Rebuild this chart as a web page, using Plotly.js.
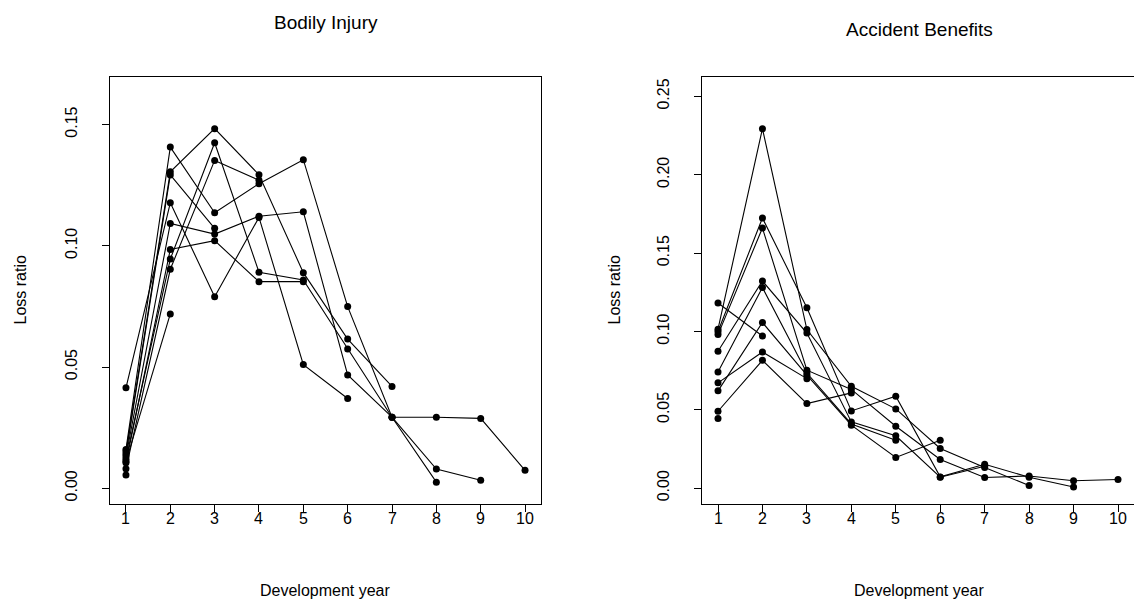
<!DOCTYPE html>
<html>
<head>
<meta charset="utf-8">
<script src="https://cdn.plot.ly/plotly-3.0.1.min.js"></script>
<style>
  html, body { margin: 0; padding: 0; background: #ffffff; }
  #chart { width: 1134px; height: 608px; }
</style>
</head>
<body>
<div id="chart"></div>
<script>
// Development years (columns of the loss triangle)
const devYears = [1, 2, 3, 4, 5, 6, 7, 8, 9, 10];

// Bodily Injury: incremental loss ratios, one row per accident year
const biYear1  = [0.0160, 0.1407, 0.1136, 0.1256, 0.1355, 0.0749, 0.0293, 0.0293, 0.0288, 0.0074];
const biYear2  = [0.0130, 0.1092, 0.1048, 0.1122, 0.1140, 0.0467, 0.0293, 0.0079, 0.0033];
const biYear3  = [0.0120, 0.0945, 0.1425, 0.0891, 0.0859, 0.0574, 0.0293, 0.0025];
const biYear4  = [0.0150, 0.1305, 0.1483, 0.1293, 0.0889, 0.0615, 0.0420];
const biYear5  = [0.0414, 0.1177, 0.0790, 0.1117, 0.0510, 0.0370];
const biYear6  = [0.0105, 0.0985, 0.1021, 0.0852, 0.0852];
const biYear7  = [0.0080, 0.0903, 0.1352, 0.1270];
const biYear8  = [0.0140, 0.1292, 0.1072];
const biYear9  = [0.0110, 0.0719];
const biYear10 = [0.0055];

// Accident Benefits: incremental loss ratios, one row per accident year
const abYear1  = [0.0980, 0.1660, 0.0753, 0.0630, 0.0395, 0.0183, 0.0068, 0.0078, 0.0047, 0.0055];
const abYear2  = [0.1000, 0.1724, 0.1152, 0.0493, 0.0587, 0.0072, 0.0153, 0.0070, 0.0008];
const abYear3  = [0.1015, 0.2294, 0.1012, 0.0650, 0.0506, 0.0253, 0.0132, 0.0017];
const abYear4  = [0.0874, 0.1322, 0.0990, 0.0423, 0.0334, 0.0070, 0.0140];
const abYear5  = [0.0621, 0.1057, 0.0721, 0.0402, 0.0196, 0.0306];
const abYear6  = [0.0742, 0.1280, 0.0735, 0.0410, 0.0306];
const abYear7  = [0.0491, 0.0816, 0.0540, 0.0608];
const abYear8  = [0.0672, 0.0869, 0.0699];
const abYear9  = [0.1182, 0.0971];
const abYear10 = [0.0444];

const panelTitles = ['Bodily Injury', 'Accident Benefits'];
const xAxisTitle = 'Development year';
const yAxisTitle = 'Loss ratio';
const xTickVals = [1, 2, 3, 4, 5, 6, 7, 8, 9, 10];
const biTickVals = [0, 0.05, 0.10, 0.15];
const abTickVals = [0, 0.05, 0.10, 0.15, 0.20, 0.25];

const biRows = [biYear1, biYear2, biYear3, biYear4, biYear5, biYear6, biYear7, biYear8, biYear9, biYear10];
const abRows = [abYear1, abYear2, abYear3, abYear4, abYear5, abYear6, abYear7, abYear8, abYear9, abYear10];

function rowTraces(rows, xa, ya) {
  return rows.map(row => ({
    type: 'scatter',
    mode: 'lines+markers',
    x: devYears.slice(0, row.length),
    y: row,
    xaxis: xa,
    yaxis: ya,
    line: { color: '#000000', width: 1.1 },
    marker: { color: '#000000', size: 7 },
    cliponaxis: false,
    hoverinfo: 'x+y',
    showlegend: false
  }));
}

const traces = rowTraces(biRows, 'x', 'y').concat(rowTraces(abRows, 'x2', 'y2'));

const W = 1134, H = 608;
const fx = p => p / W;
const fy = p => 1 - p / H;
const font = { family: 'Liberation Sans, Arial, Helvetica, sans-serif', color: '#000000' };

// Plot boxes in pixels
const leftBox  = { x0: 110, x1: 541 };
const rightBox = { x0: 702, x1: 1134 };
const boxTop = 77, boxBottom = 504;
const xTickLabelY = 518;

function xAxis(box, anchor) {
  return {
    domain: [fx(box.x0), fx(box.x1)],
    range: [0.64, 10.36],
    tickmode: 'array',
    tickvals: xTickVals,
    showticklabels: false,
    ticks: 'outside', ticklen: 7, tickwidth: 1, tickcolor: '#000000',
    showline: true, mirror: true, linecolor: '#000000', linewidth: 1,
    showgrid: false, zeroline: false,
    anchor: anchor, automargin: false, fixedrange: true
  };
}

function yAxis(range, vals, anchor) {
  return {
    domain: [fy(boxBottom), fy(boxTop)],
    range: range,
    tickmode: 'array',
    tickvals: vals,
    ticktext: vals.map(v => v.toFixed(2)),
    tickangle: -90,
    ticks: 'outside', ticklen: 7, tickwidth: 1, tickcolor: '#000000',
    ticklabelstandoff: 19,
    showline: true, mirror: true, linecolor: '#000000', linewidth: 1,
    showgrid: false, zeroline: false,
    tickfont: Object.assign({ size: 16 }, font),
    anchor: anchor, automargin: false, fixedrange: true
  };
}

function label(text, x, y, size, angle) {
  return {
    text: text, xref: 'paper', yref: 'paper',
    x: fx(x), y: fy(y), xanchor: 'center', yanchor: 'middle',
    showarrow: false, textangle: angle || 0,
    font: Object.assign({ size: size }, font)
  };
}

// x tick labels placed just under the outward ticks
function xTickLabels(xref) {
  return xTickVals.map(v => ({
    text: String(v), xref: xref, yref: 'paper',
    x: v, y: fy(xTickLabelY), xanchor: 'center', yanchor: 'middle',
    showarrow: false, font: Object.assign({ size: 16 }, font)
  }));
}

const leftMid = (leftBox.x0 + leftBox.x1) / 2;
const rightMid = (rightBox.x0 + rightBox.x1 + 2) / 2;
const boxMid = (boxTop + boxBottom) / 2;

const layout = {
  width: W, height: H,
  margin: { l: 0, r: 0, t: 0, b: 0, pad: 0 },
  paper_bgcolor: '#ffffff', plot_bgcolor: '#ffffff',
  showlegend: false,
  xaxis: xAxis(leftBox, 'y'),
  yaxis: yAxis([-0.0065, 0.1696], biTickVals, 'x'),
  xaxis2: xAxis(rightBox, 'y2'),
  yaxis2: yAxis([-0.0101, 0.2624], abTickVals, 'x2'),
  annotations: [
    label(panelTitles[0], leftMid, 22, 19),
    label(panelTitles[1], rightMid, 30, 19),
    label(xAxisTitle, leftMid, 590, 16),
    label(xAxisTitle, rightMid, 590, 16),
    label(yAxisTitle, 20, boxMid, 16, -90),
    label(yAxisTitle, 614, boxMid, 16, -90)
  ].concat(xTickLabels('x'), xTickLabels('x2'))
};

Plotly.newPlot('chart', traces, layout, { displayModeBar: false, staticPlot: true });
</script>
</body>
</html>
